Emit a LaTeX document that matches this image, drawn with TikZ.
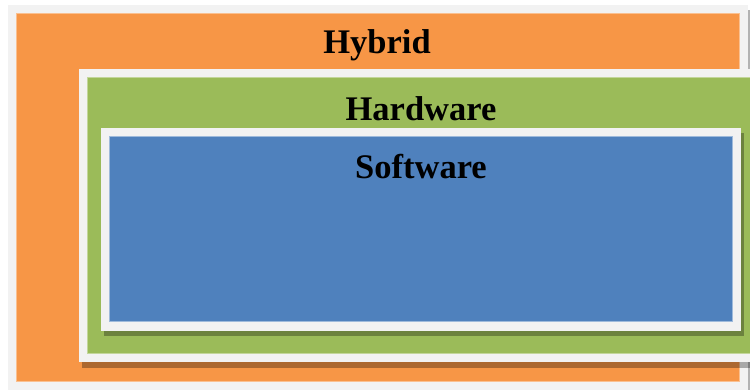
\documentclass[tikz,border=0pt]{standalone}
\usepackage{fontspec}
\setmainfont{Liberation Serif}
\definecolor{framegrey}{HTML}{F2F2F2}
\definecolor{hyorange}{HTML}{F79646}
\definecolor{hwgreen}{HTML}{9BBB59}
\definecolor{swblue}{HTML}{4F81BD}
\tikzset{
  frame/.style={fill=framegrey, draw=none},
  shadowbox/.style={fill=black, fill opacity=0.3, draw=none},
  label/.style={font=\fontsize{34.5bp}{41bp}\selectfont\bfseries, text=black, anchor=base, inner sep=0pt},
}
\begin{document}
\begin{tikzpicture}[x=1bp,y=-1bp]
\useasboundingbox (0,0) rectangle (750,389);
\fill[white] (0,0) rectangle (750,389);
\begin{scope}
\clip (0,0) rectangle (750,389);
% Hybrid
\fill[shadowbox] (748,10) rectangle (753,395);
\fill[frame] (8,5) rectangle (748,395);
\fill[hyorange] (16,13) rectangle (740,382);
\draw[hyorange!60!white, line width=0.8bp] (16.4,13.4) rectangle (739.6,381.6);
% Hardware
\fill[shadowbox] (82,75) rectangle (770,368);
\fill[frame] (79,69) rectangle (770,362);
\fill[hwgreen] (87,77) rectangle (770,354);
\draw[hwgreen!60!white, line width=0.8bp] (87.4,77.4) rectangle (775,353.6);
% Software
\fill[shadowbox] (104,133) rectangle (744,336);
\fill[frame] (101,128) rectangle (741,331);
\fill[swblue] (109,136) rectangle (733,322);
\draw[swblue!55!white, line width=0.8bp] (109.4,136.4) rectangle (732.6,321.6);
\end{scope}
\node[label] (hybrid) at (377,53) {Hybrid};
\node[label] (hardware) at (421,120) {Hardware};
\node[label] (software) at (421,178) {Software};
\end{tikzpicture}
\end{document}
